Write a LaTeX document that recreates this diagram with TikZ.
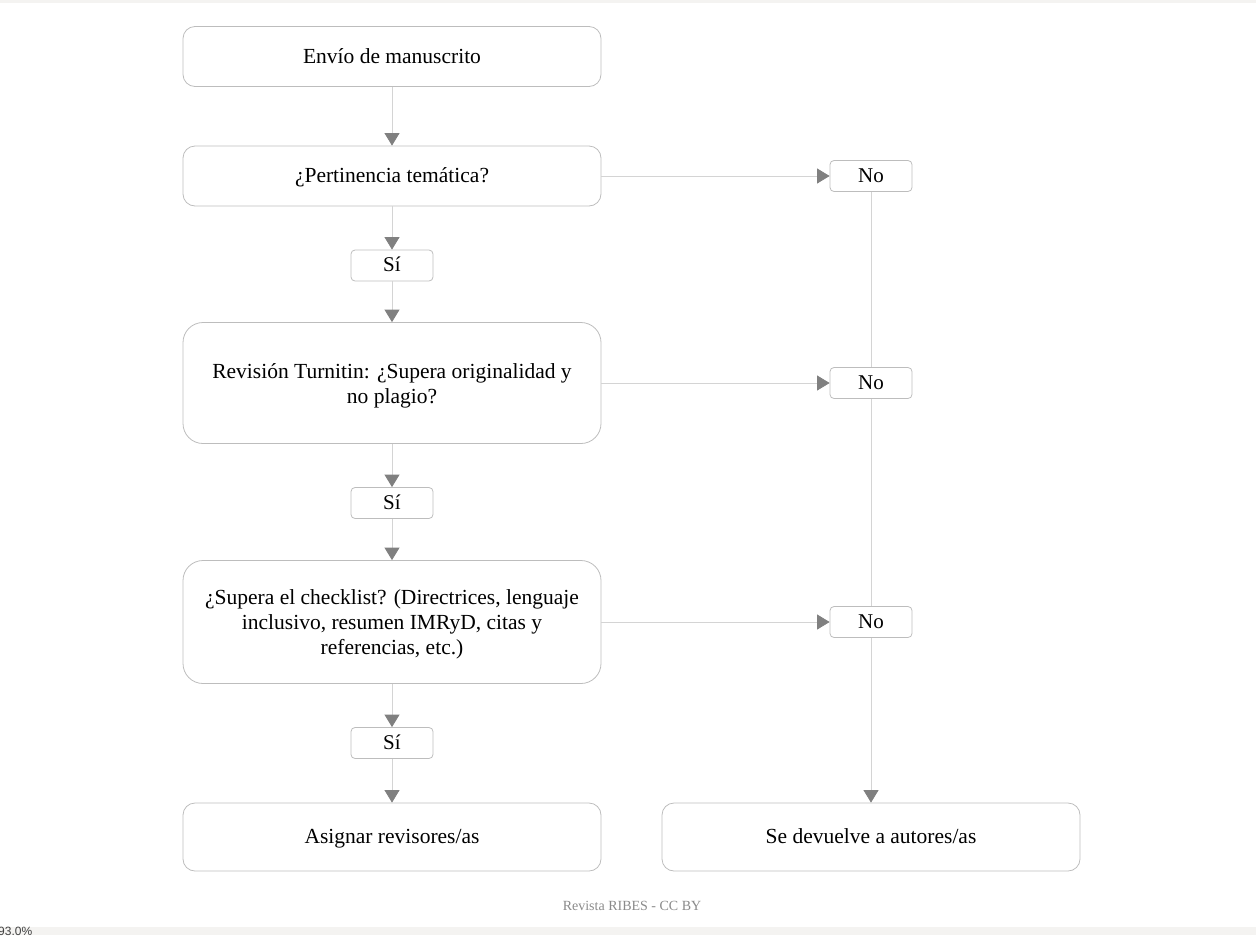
\documentclass[tikz,border=0pt]{standalone}
\usepackage{fontspec}
\setmainfont{Liberation Serif}
\setsansfont{Liberation Sans}
\usetikzlibrary{arrows.meta}
\definecolor{boxline}{HTML}{BDBDBD}
\definecolor{conn}{HTML}{D4D4D4}
\definecolor{tipc}{HTML}{808080}
\definecolor{barc}{HTML}{F4F3F1}
\definecolor{footc}{HTML}{8A8A8A}
\newcommand\topstrut[1]{\rule{0pt}{#1}}
\newcommand\botstrut[1]{\rule[-#1]{0pt}{#1}}
\begin{document}
\begin{tikzpicture}[x=1pt,y=-1pt,
  bigbox/.style={draw=boxline, line width=0.8pt, rounded corners=12pt, minimum width=418pt, minimum height=60pt, inner sep=0pt, align=center, text height=17pt, text depth=4pt, font=\fontsize{21.5}{25}\selectfont},
  tallbox/.style={bigbox, rounded corners=20pt, minimum height=121pt, text height=, text depth=},
  endbox/.style={bigbox, minimum height=68pt},
  tagbox/.style={draw=boxline, line width=0.8pt, rounded corners=4pt, minimum width=82pt, minimum height=31pt, inner sep=0pt, text height=17pt, text depth=5pt, font=\fontsize{21}{24}\selectfont},
  conn/.style={draw=conn, line width=0.8pt},
  arr/.style={conn, -{Triangle[width=15pt,length=12.5pt,color=tipc]}}
]
\useasboundingbox (0,0) rectangle (1256,935);
\clip (0,0) rectangle (1256,935);
\fill[barc] (0,0) rectangle (1256,3);
\fill[barc] (0,927) rectangle (1256,935);
\node[anchor=north west, inner sep=0pt, font=\sffamily\fontsize{12}{14}\selectfont, text=black!75] (zoomtxt) at (-2,927) {93.0\%};

\node[bigbox] (b1) at (392,56.5) {Envío de manuscrito};
\node[bigbox] (b2) at (392,176) {¿Pertinencia temática?};
\node[tagbox] (s1) at (392,265.5) {Sí};
\node[tallbox] (b3) at (392,383) {\topstrut{31pt}Revisión Turnitin: ¿Supera originalidad y\\no plagio?\botstrut{15pt}};
\node[tagbox] (s2) at (392,503) {Sí};
\node[tallbox, minimum height=123pt] (b4) at (392,622) {\topstrut{32pt}¿Supera el checklist? (Directrices, lenguaje\\inclusivo, resumen IMRyD, citas y\\referencias, etc.)\botstrut{18pt}};
\node[tagbox] (s3) at (392,743) {Sí};
\node[endbox] (b5) at (392,837) {Asignar revisores/as};
\node[endbox] (b6) at (871,837) {Se devuelve a autores/as};
\node[tagbox] (n1) at (871,176) {No};
\node[tagbox] (n2) at (871,383) {No};
\node[tagbox] (n3) at (871,622) {No};

\draw[arr] (b1) -- (b2);
\draw[arr] (b2) -- (s1);
\draw[arr] (s1) -- (b3);
\draw[arr] (b3) -- (s2);
\draw[arr] (s2) -- (b4);
\draw[arr] (b4) -- (s3);
\draw[arr] (s3) -- (b5);
\draw[arr] (b2) -- (n1);
\draw[arr] (b3) -- (n2);
\draw[arr] (b4) -- (n3);
\draw[conn] (n1) -- (n2);
\draw[conn] (n2) -- (n3);
\draw[arr] (n3) -- (b6);

\node[font=\fontsize{14}{16}\selectfont, text=footc] (foot) at (632,906) {Revista RIBES - CC BY};
\end{tikzpicture}
\end{document}
